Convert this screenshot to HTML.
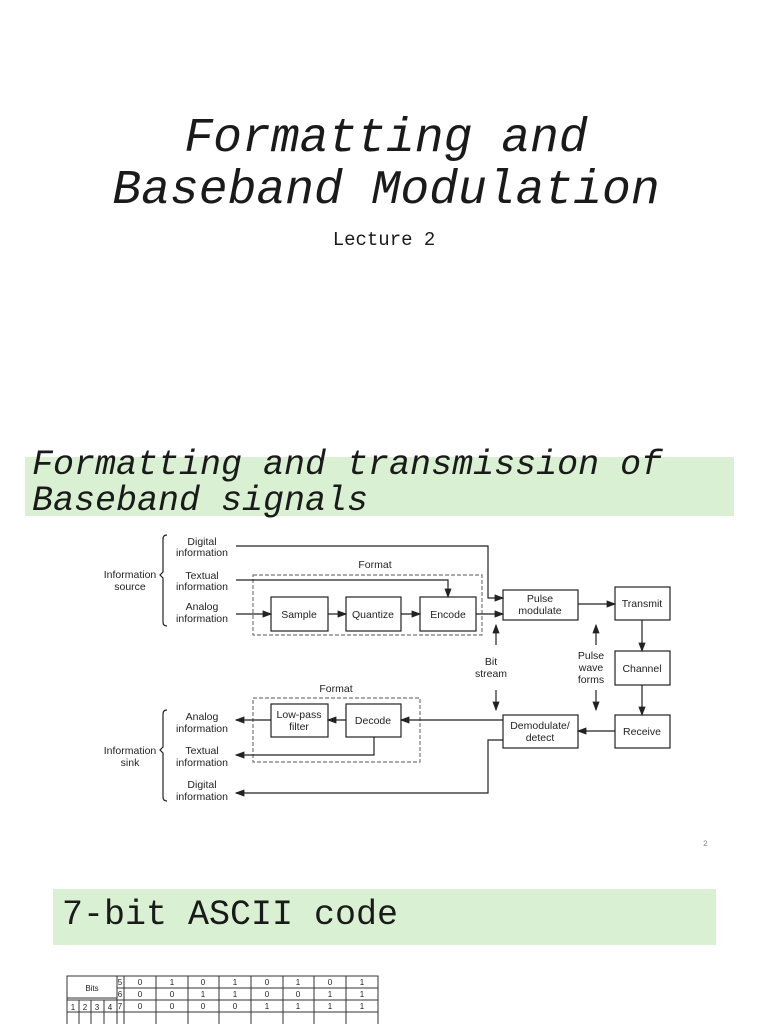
<!DOCTYPE html>
<html><head><meta charset="utf-8"><style>
body{margin:0;width:768px;height:1024px;background:#fff;position:relative;overflow:hidden;font-family:"Liberation Mono",monospace}
.t{position:absolute;white-space:nowrap;color:#1a1a1a}
svg text{font-family:"Liberation Sans",sans-serif;font-size:10.5px;fill:#222}
</style></head><body>
<div class="t" style="left:0;width:772px;text-align:center;top:113px;font-size:48px;font-style:italic;line-height:52px">Formatting and<br>Baseband Modulation</div>
<div class="t" style="left:0;width:768px;text-align:center;top:229px;font-size:19px">Lecture 2</div>
<div style="position:absolute;left:25px;top:457px;width:709px;height:59px;background:#d9f0d3"></div>
<div class="t" style="left:32px;top:447px;font-size:35px;font-style:italic;line-height:36px">Formatting and transmission of<br>Baseband signals</div>
<div style="position:absolute;left:53px;top:889px;width:663px;height:56px;background:#d9f0d3"></div>
<div class="t" style="left:62px;top:895px;font-size:35px;line-height:40px">7-bit ASCII code</div>
<div class="t" style="left:703px;top:840px;font-size:8px;color:#888">2</div>
<svg width="768" height="1024" style="position:absolute;left:0;top:0">
<defs><marker id="a" markerWidth="8" markerHeight="6" refX="7" refY="3" orient="auto"><path d="M0,0L8,3L0,6z" fill="#222"/></marker></defs>
<g stroke="#222" fill="none" stroke-width="1.2">
<rect x="271" y="597" width="57" height="34"/><rect x="346" y="597" width="55" height="34"/><rect x="420" y="597" width="56" height="34"/>
<rect x="503" y="590" width="75" height="30"/><rect x="615" y="587" width="55" height="33"/><rect x="615" y="651" width="55" height="34"/><rect x="615" y="715" width="55" height="33"/>
<rect x="503" y="715" width="75" height="33"/><rect x="346" y="704" width="55" height="33"/><rect x="271" y="704" width="57" height="33"/>
<rect x="253" y="575" width="229" height="60" stroke-dasharray="4,2" stroke="#777"/>
<rect x="253" y="698" width="167" height="64" stroke-dasharray="4,2" stroke="#777"/>
<path d="M167,535 q-4,0 -4,4 v33 l-3,3 l3,3 v44 q0,4 4,4"/>
<path d="M167,710 q-4,0 -4,4 v33 l-3,3 l3,3 v44 q0,4 4,4"/>
<path d="M236,546 H488 V598 H503" marker-end="url(#a)"/>
<path d="M236,580 H448 V597" marker-end="url(#a)"/>
<path d="M236,614 H271" marker-end="url(#a)"/>
<path d="M328,614 H346" marker-end="url(#a)"/>
<path d="M401,614 H420" marker-end="url(#a)"/>
<path d="M476,614 H503" marker-end="url(#a)"/>
<path d="M578,604 H615" marker-end="url(#a)"/>
<path d="M642,620 V651" marker-end="url(#a)"/>
<path d="M642,685 V715" marker-end="url(#a)"/>
<path d="M615,731 H578" marker-end="url(#a)"/>
<path d="M503,720 H401" marker-end="url(#a)"/>
<path d="M346,720 H328" marker-end="url(#a)"/>
<path d="M271,720 H236" marker-end="url(#a)"/>
<path d="M374,737 V755 H236" marker-end="url(#a)"/>
<path d="M503,740 H488 V793 H236" marker-end="url(#a)"/>
<path d="M496,645 V625" marker-end="url(#a)"/><path d="M496,690 V710" marker-end="url(#a)"/>
<path d="M596,645 V625" marker-end="url(#a)"/><path d="M596,690 V710" marker-end="url(#a)"/>
</g>
<g text-anchor="middle">
<text x="202" y="545">Digital</text><text x="202" y="556">information</text>
<text x="130" y="578">Information</text><text x="130" y="590">source</text>
<text x="202" y="579">Textual</text><text x="202" y="590">information</text>
<text x="202" y="610">Analog</text><text x="202" y="622">information</text>
<text x="375" y="568">Format</text>
<text x="299" y="618">Sample</text><text x="373" y="618">Quantize</text><text x="448" y="618">Encode</text>
<text x="540" y="602">Pulse</text><text x="540" y="614">modulate</text>
<text x="642" y="607">Transmit</text><text x="642" y="672">Channel</text><text x="642" y="735">Receive</text>
<text x="491" y="665">Bit</text><text x="491" y="677">stream</text>
<text x="591" y="659">Pulse</text><text x="591" y="671">wave</text><text x="591" y="683">forms</text>
<text x="336" y="692">Format</text>
<text x="299" y="718">Low-pass</text><text x="299" y="730">filter</text><text x="373" y="724">Decode</text>
<text x="540" y="729">Demodulate/</text><text x="540" y="741">detect</text>
<text x="202" y="720">Analog</text><text x="202" y="732">information</text>
<text x="130" y="754">Information</text><text x="130" y="766">sink</text>
<text x="202" y="754">Textual</text><text x="202" y="766">information</text>
<text x="202" y="788">Digital</text><text x="202" y="800">information</text>
</g>
<g stroke="#333" fill="none" stroke-width="1">
<rect x="67" y="976" width="311" height="60"/>
<path d="M117,976V1024M124,976V1024M117,988H378M117,1000H378M67,998H117M67,1000H117M67,1012H378"/>
<path d="M156,976V1024M188,976V1024M219,976V1024M251,976V1024M283,976V1024M314,976V1024M346,976V1024M79,1000V1024M91,1000V1024M104,1000V1024"/>
</g>
<g text-anchor="middle">
<text x="92" y="991" style="font-size:8px">Bits</text>
<text x="73" y="1010" style="font-size:8px">1</text><text x="85" y="1010" style="font-size:8px">2</text><text x="97" y="1010" style="font-size:8px">3</text><text x="110" y="1010" style="font-size:8px">4</text>
<text x="120" y="985" style="font-size:8px">5</text><text x="120" y="997" style="font-size:8px">6</text><text x="120" y="1009" style="font-size:8px">7</text>
<text x="140" y="985" style="font-size:8px">0</text><text x="172" y="985" style="font-size:8px">1</text><text x="203" y="985" style="font-size:8px">0</text><text x="235" y="985" style="font-size:8px">1</text><text x="267" y="985" style="font-size:8px">0</text><text x="298" y="985" style="font-size:8px">1</text><text x="330" y="985" style="font-size:8px">0</text><text x="362" y="985" style="font-size:8px">1</text>
<text x="140" y="997" style="font-size:8px">0</text><text x="172" y="997" style="font-size:8px">0</text><text x="203" y="997" style="font-size:8px">1</text><text x="235" y="997" style="font-size:8px">1</text><text x="267" y="997" style="font-size:8px">0</text><text x="298" y="997" style="font-size:8px">0</text><text x="330" y="997" style="font-size:8px">1</text><text x="362" y="997" style="font-size:8px">1</text>
<text x="140" y="1009" style="font-size:8px">0</text><text x="172" y="1009" style="font-size:8px">0</text><text x="203" y="1009" style="font-size:8px">0</text><text x="235" y="1009" style="font-size:8px">0</text><text x="267" y="1009" style="font-size:8px">1</text><text x="298" y="1009" style="font-size:8px">1</text><text x="330" y="1009" style="font-size:8px">1</text><text x="362" y="1009" style="font-size:8px">1</text>
</g>
</svg>
</body></html>
